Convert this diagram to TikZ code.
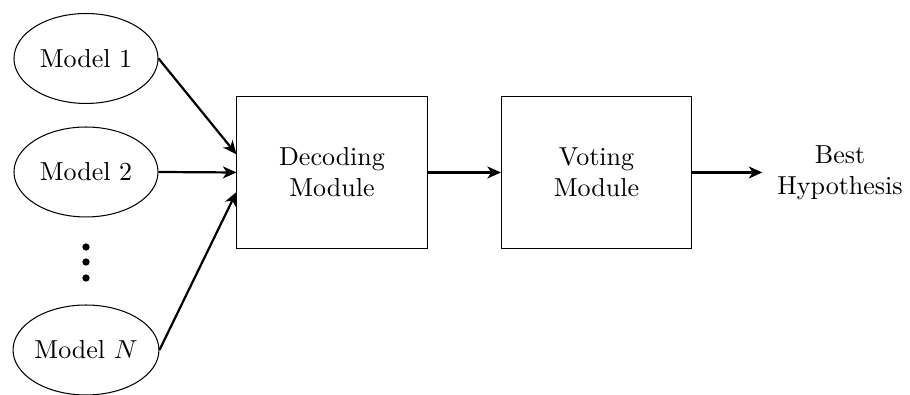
\documentclass[tikz,border=0pt]{standalone}
\usetikzlibrary{shapes.geometric,arrows.meta}

\tikzset{
  model/.style={draw, line width=0.4pt, ellipse, inner sep=0pt,
                minimum width=55.4pt, minimum height=34.6pt},
  module/.style={draw, line width=0.4pt, rectangle, align=center,
                 minimum width=73.1pt, minimum height=58.1pt},
  dotmark/.style={circle, fill, inner sep=0pt, minimum size=2.8pt},
  flow/.style={line width=0.85pt, -{Stealth[length=5.2pt, width=4.6pt, inset=1.5pt]}},
}

\begin{document}
\begin{tikzpicture}[x=0.38462pt, y=-0.38462pt]
  \useasboundingbox (0,0) rectangle (910,395);

  % input models
  \node[model] (m1) at (86,58.5) {Model 1};
  \node[model] (m2) at (86,172)  {Model 2};
  \node[model] (mn) at (86,350)  {Model $N$};

  % vertical ellipsis between model 2 and model N
  \node[dotmark] (d1) at (86,247) {};
  \node[dotmark] (d2) at (86,262) {};
  \node[dotmark] (d3) at (86,278) {};

  % processing stages
  \node[module] (dec) at (332,172.5) {Decoding\\Module};
  \node[module] (vot) at (596.5,172.5) {Voting\\Module};
  \node[align=center, inner sep=5.6pt] (best) at (840,172.5) {Best\\Hypothesis};

  % connections
  \draw[flow] (m1.east) -- ([yshift=7pt]dec.west);
  \draw[flow] (m2.east) -- (dec.west);
  \draw[flow] (mn.east) -- ([yshift=-7.5pt]dec.west);
  \draw[flow] (dec.east) -- (vot.west);
  \draw[flow] (vot.east) -- (best.west);
\end{tikzpicture}
\end{document}
